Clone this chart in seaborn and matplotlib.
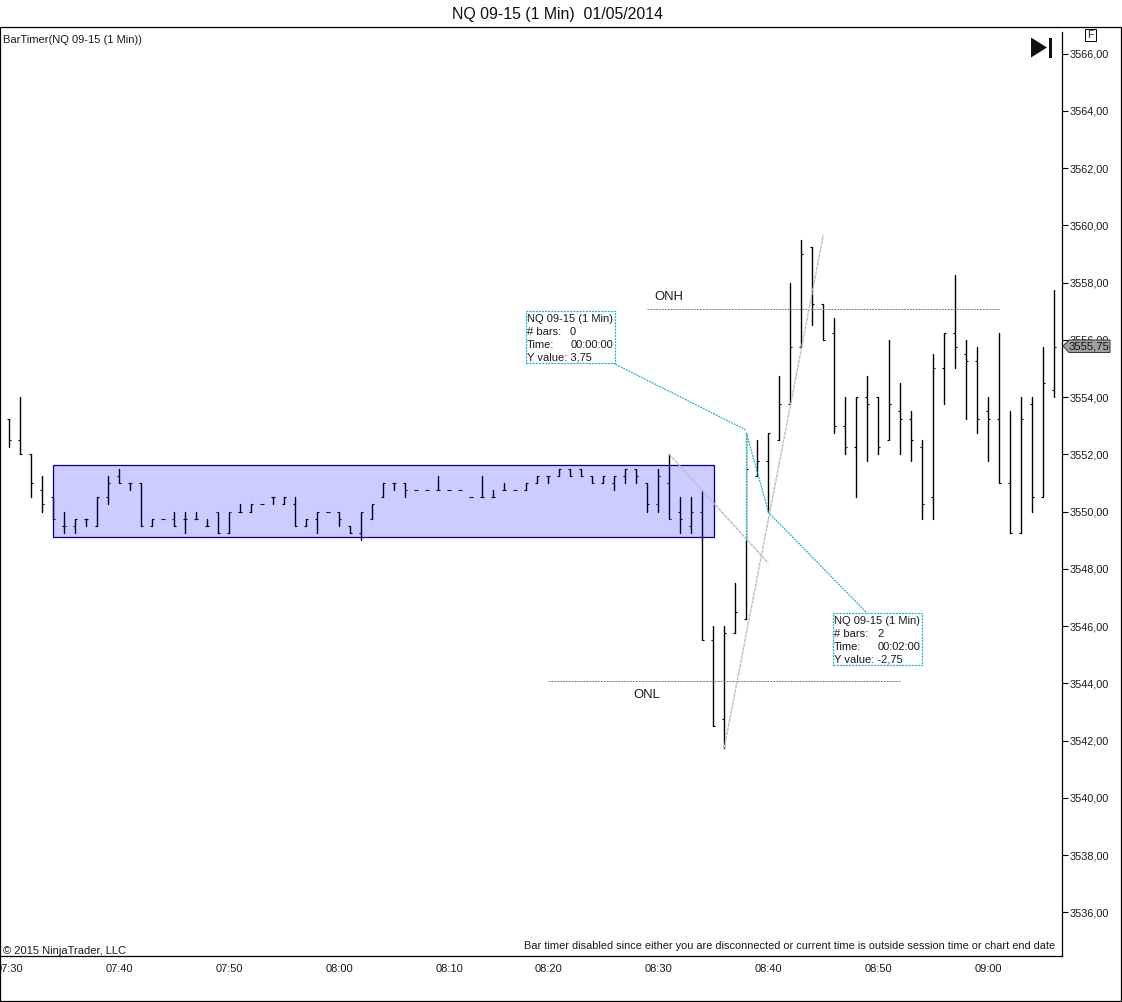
import numpy as np
import pandas as pd
import seaborn as sns
import matplotlib
matplotlib.use("Agg")
import matplotlib.pyplot as plt
from matplotlib.lines import Line2D
from matplotlib.patches import Rectangle, Polygon

# one value per 1 min bar
bar_high = [3553.25,3554,3552,3551.25,3550.5,3550,3549.75,3549.75,3550.5,3551.25,
            3551.5,3551,3551,3549.75,3549.75,3550,3550,3550,3549.75,3550,
            3550,3550.25,3550.25,3550.25,3550.5,3550.5,3550.5,3549.75,3550,3550,
            3550,3549.5,3550,3550.25,3551,3551,3551,3550.75,3550.75,3551.25,
            3550.75,3550.75,3550.5,3551.25,3550.75,3551,3550.75,3551,3551.25,3551.25,
            3551.5,3551.5,3551.5,3551.25,3551.25,3551.25,3551.5,3551.5,3551,3551.5,
            3552,3550.5,3550.5,3550.75,3546,3546,3547.5,3552.75,3552.5,3552.75,
            3554.75,3558,3559.5,3559.25,3557.25,3556.75,3554,3554,3554.75,3554,
            3556,3554.5,3553.5,3552.5,3555.5,3556.25,3558.25,3556,3555.75,3554,
            3556.25,3553.5,3554,3554,3555.75,3557.75]
bar_low = [3552.25,3552,3550.5,3550,3549.75,3549.25,3549.25,3549.5,3549.5,3550.25,
           3551,3550.75,3549.5,3549.5,3549.75,3549.5,3549.25,3549.75,3549.5,3549.25,
           3549.25,3550,3550,3550.25,3550.25,3550.25,3549.5,3549.5,3549.25,3550,
           3549.5,3549.25,3549,3549.75,3550.5,3550.75,3550.5,3550.75,3550.75,3550.75,
           3550.75,3550.75,3550.5,3550.5,3550.5,3550.75,3550.75,3550.75,3551,3551,
           3551.25,3551.25,3551.25,3551,3551,3550.75,3551,3551,3550,3550,
           3549.75,3549.25,3549.25,3545.5,3542.5,3541.75,3545.75,3546.25,3551.25,3550,
           3552.5,3553.75,3555.75,3556.5,3556,3552.75,3552,3550.5,3551.75,3552,
           3552.5,3552,3551.75,3549.75,3549.75,3553.75,3555,3553.25,3552.75,3551.75,
           3551,3549.25,3549.25,3550,3550.5,3554]
bar_open = [3553.25,3552.5,3552,3550.75,3550.5,3549.5,3549.5,3549.75,3549.5,3550.5,
            3551.25,3551,3551,3549.5,3549.75,3549.75,3549.75,3549.75,3549.5,3550,
            3549.25,3550,3550,3550.25,3550.5,3550.25,3550.25,3549.5,3549.75,3550,
            3550,3549.5,3549.25,3549.75,3550.5,3551,3551,3550.75,3550.75,3550.75,
            3550.75,3550.75,3550.5,3550.5,3550.5,3550.75,3550.75,3550.75,3551,3551.25,
            3551.25,3551.5,3551.5,3551.25,3551,3551,3551.25,3551.5,3551,3550.25,
            3551,3550,3549.5,3550,3545.5,3542.75,3545.75,3546.25,3551.25,3551.75,
            3552.5,3553.75,3555.75,3559.25,3557.25,3556.25,3553,3552.25,3554,3554,
            3552.5,3553.5,3553.25,3552.25,3550.5,3555,3556.25,3555.5,3555.25,3553.5,
            3553.25,3551,3549.25,3553.75,3550.5,3554.25]
bar_close = [3552.5,3552,3551,3550.25,3549.75,3549.5,3549.75,3549.75,3550.5,3551,
             3551,3551,3549.5,3549.75,3549.75,3549.5,3549.75,3549.75,3549.5,3549.25,
             3550,3550,3550.25,3550.25,3550.5,3550.5,3549.5,3549.75,3550,3550,
             3549.75,3549.25,3550,3550.25,3551,3551,3550.75,3550.75,3550.75,3550.75,
             3550.75,3550.75,3550.5,3550.5,3550.5,3550.75,3550.75,3551,3551.25,3551.25,
             3551.5,3551.25,3551.25,3551,3551.25,3551.25,3551.5,3551.25,3550.25,3551.25,
             3549.75,3549.75,3550,3545.5,3542.5,3545.75,3546.5,3551.5,3551.75,3552.75,
             3553.75,3555.75,3559,3557.25,3556,3553,3552.25,3554,3553.75,3552.25,
             3553.75,3553.25,3552.5,3550.25,3555,3556.25,3555.75,3555.25,3553.25,3553.25,
             3551,3549.25,3553.25,3550.5,3554.5,3555.75]

time_ticks = [0, 10, 20, 30, 40, 49, 59, 69, 79, 89]
time_labels = ["07:30", "07:40", "07:50", "08:00", "08:10", "08:20", "08:30", "08:40", "08:50", "09:00"]
price_ticks = [3536, 3538, 3540, 3542, 3544, 3546, 3548, 3550, 3552, 3554, 3556, 3558, 3560, 3562, 3564, 3566]

onh_x, onh_y = [58, 90], [3557.08, 3557.08]
onl_x, onl_y = [49, 81], [3544.07, 3544.07]
trend_up_x, trend_up_y = [65, 74], [3541.75, 3559.66]
trend_down_x, trend_down_y = [60, 69], [3552, 3548.2]
range_box = [4, 64.05, 3549.11, 3551.63]
ruler_a_x, ruler_a_y = [67, 67], [3549, 3552.75]
ruler_b_x, ruler_b_y = [67, 69], [3552.75, 3550]
last_price = "3555,75"

W, H = 1122, 1002
PLOT_RIGHT, PLOT_TOP, PLOT_BOTTOM = 1062, 27, 956
CYAN = "#1AB4CC"
GRAY = "#BDBDBD"

sns.set_theme(style="white")
plt.rcParams["font.family"] = ["Liberation Sans", "DejaVu Sans"]

fig = plt.figure(figsize=(W / 100, H / 100), dpi=100, facecolor="white")
ax = fig.add_axes([0, 1 - PLOT_BOTTOM / H, PLOT_RIGHT / W, (PLOT_BOTTOM - PLOT_TOP) / H])


def px_fig(x, y):
    return x / W, 1 - y / H


# bars as long form, one unit per bar
idx = np.arange(len(bar_high))
hl = pd.DataFrame({"i": np.r_[idx, idx], "price": bar_high + bar_low, "bar": np.r_[idx, idx]})
sns.lineplot(data=hl, x="i", y="price", units="bar", estimator=None, sort=False,
             color="black", linewidth=1.0, ax=ax, zorder=3)
ticks = pd.DataFrame({"i": idx, "o": bar_open, "c": bar_close})
# marker 0 / 1 are matplotlib's tickleft / tickright
sns.scatterplot(data=ticks, x="i", y="o", marker=0, s=2.2, color="black", linewidth=0.8, ax=ax, zorder=3)
sns.scatterplot(data=ticks, x="i", y="c", marker=1, s=2.2, color="black", linewidth=0.8, ax=ax, zorder=3)

ax.add_patch(Rectangle((range_box[0], range_box[2]), range_box[1] - range_box[0], range_box[3] - range_box[2],
                       facecolor=(0, 0, 1, 0.2), edgecolor="#0000A0", linewidth=0.9, zorder=4))

ax.plot(onh_x, onh_y, color="#808080", lw=0.7, ls=(0, (2, 1)), zorder=5)
ax.plot(onl_x, onl_y, color="#808080", lw=0.7, ls=(0, (2, 1)), zorder=5)
ax.plot(trend_up_x, trend_up_y, color=GRAY, lw=1.0, ls=(0, (2.5, 0.6)), zorder=5)
ax.plot(trend_down_x, trend_down_y, color=GRAY, lw=1.0, ls=(0, (2.5, 0.6)), zorder=5)
# the ruler hides the top of the bar under it
ax.plot(ruler_a_x, ruler_a_y, color="white", lw=1.3, zorder=4.5)
ax.plot(ruler_a_x, ruler_a_y, color=CYAN, lw=0.9, ls=(0, (1.5, 0.8)), zorder=5)
ax.plot(ruler_b_x, ruler_b_y, color=CYAN, lw=0.9, ls=(0, (1.5, 0.8)), zorder=5)

ax.set_xlim((0 - 9.3) / 11, (PLOT_RIGHT - 9.3) / 11)
ax.set_ylim(3566 - (PLOT_BOTTOM - 53.5) / 28.63, 3566 + (53.5 - PLOT_TOP) / 28.63)
ax.set_xlabel("")
ax.set_ylabel("")
ax.set_xticks(time_ticks, time_labels)
ax.set_yticks(price_ticks, ["%d,00" % p for p in price_ticks])
ax.yaxis.tick_right()
ax.tick_params(axis="both", length=4.5, width=0.8, color="black", labelcolor="#1a1a1a", direction="out")
ax.tick_params(axis="y", labelsize=7.8, pad=1.2)
ax.tick_params(axis="x", labelsize=8, pad=1.5)
ax.grid(False)
for name, spine in ax.spines.items():
    spine.set_visible(name in ("right", "bottom"))
    spine.set_color("black")
    spine.set_linewidth(0.9)
ax.spines["right"].set_bounds(ax.get_ylim()[0], 3566 + (53.5 - 32) / 28.63)

# outer window frame
fig.add_artist(Rectangle(px_fig(0, 1001), 1120.8 / W, 973.6 / H, transform=fig.transFigure,
                         facecolor="none", edgecolor="black", linewidth=0.9, zorder=6))

fig.text(*px_fig(557, 14), "NQ 09-15 (1 Min)  01/05/2014", fontsize=11.4, color="#111111", ha="center", va="center")
fig.text(*px_fig(3, 40), "BarTimer(NQ 09-15 (1 Min))", fontsize=8, color="#1a1a1a", ha="left", va="center")
fig.text(*px_fig(3, 951), "© 2015 NinjaTrader, LLC", fontsize=8, color="#1a1a1a", ha="left", va="center")
fig.text(*px_fig(1055, 946), "Bar timer disabled since either you are disconnected or current time is outside session time or chart end date",
         fontsize=7.9, color="#1a1a1a", ha="right", va="center")
fig.text(*px_fig(669, 297.5), "ONH", fontsize=9.4, color="#1a1a1a", ha="center", va="center")
fig.text(*px_fig(647, 694.5), "ONL", fontsize=9.4, color="#1a1a1a", ha="center", va="center")

# the two measuring tool boxes
for left, top, bars, span, yval in [(526, 311, "0", "00:00:00", "3,75"), (833, 613, "2", "00:02:00", "-2,75")]:
    fig.add_artist(Rectangle(px_fig(left, top + 52), 88.5 / W, 52 / H, transform=fig.transFigure,
                             facecolor="white", edgecolor=CYAN, linewidth=0.9, ls=(0, (1.6, 0.9)), zorder=6))
    rows = [("NQ 09-15 (1 Min)", ""), ("# bars:", bars), ("Time:", span), ("Y value: " + yval, "")]
    for k, (a, b) in enumerate(rows):
        y = top + 8 + 13 * k
        fig.text(*px_fig(left + 1, y), a, fontsize=8.0, color="#1a1a1a", va="center", zorder=7)
        if b:
            off = 45 if k == 2 else 44
            fig.text(*px_fig(left + off, y), b, fontsize=8.0, color="#1a1a1a", va="center", zorder=7)

# leader lines from boxes to the ruler
fig.add_artist(Line2D([613 / W, 746 / W], [1 - 363 / H, 1 - 430 / H], color=CYAN, lw=0.9, ls=(0, (1.5, 0.8)), zorder=5))
fig.add_artist(Line2D([768 / W, 867 / W], [1 - 512 / H, 1 - 613 / H], color=CYAN, lw=0.9, ls=(0, (1.5, 0.8)), zorder=5))

# last price flag on the axis
flag = [(1063, 346), (1069, 340), (1110, 340), (1110, 352.5), (1069, 352.5)]
fig.add_artist(Polygon([px_fig(*p) for p in flag], closed=True, transform=fig.transFigure,
                       facecolor="#A0A0A0", edgecolor="#333333", linewidth=0.7, zorder=6))
fig.text(*px_fig(1089, 346.5), last_price, fontsize=8.2, color="#111111", ha="center", va="center", zorder=7)

# go to last bar icon and F box
fig.add_artist(Polygon([px_fig(1031, 37.5), px_fig(1047, 47.5), px_fig(1031, 57.5)], closed=True,
                       transform=fig.transFigure, facecolor="#111111", edgecolor="none", zorder=6))
fig.add_artist(Rectangle(px_fig(1048.5, 57.5), 3 / W, 20 / H, transform=fig.transFigure,
                         facecolor="#111111", edgecolor="none", zorder=6))
fig.add_artist(Rectangle(px_fig(1085, 41), 10.5 / W, 12 / H, transform=fig.transFigure,
                         facecolor="white", edgecolor="black", linewidth=0.7, zorder=6))
fig.text(*px_fig(1090.3, 35.5), "F", fontsize=7.2, color="#222222", ha="center", va="center", zorder=7)

fig.savefig("out.png", dpi=100)
